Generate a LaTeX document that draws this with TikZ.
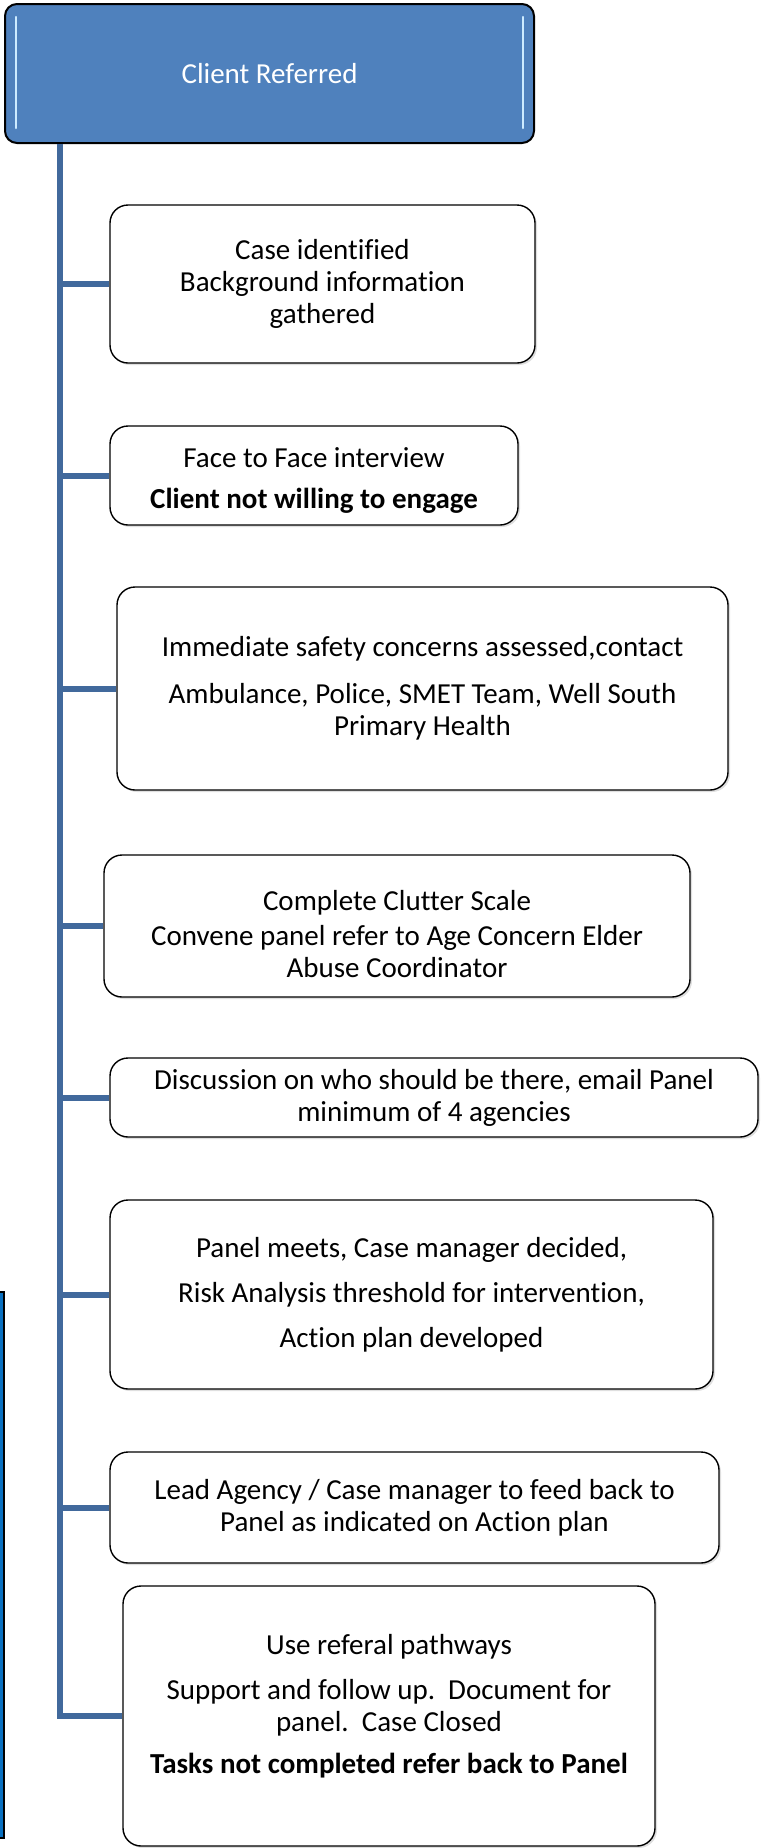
\documentclass[tikz,border=0pt]{standalone}
\usepackage{fontspec}
\setmainfont{Carlito}[Ligatures=NoCommon]
\usetikzlibrary{shadows}
\definecolor{topblue}{RGB}{79,129,189}
\definecolor{connblue}{RGB}{65,105,156}
\definecolor{barblue}{RGB}{10,112,192}
\definecolor{glint}{RGB}{205,235,255}
\begin{document}
\begin{tikzpicture}[x=1pt,y=-1pt,
  stepbox/.style={draw=black, line width=1.4pt, rounded corners=18pt, fill=white,
    align=center, font=\fontsize{29}{32}\selectfont, inner sep=0pt,
    drop shadow={shadow xshift=2pt, shadow yshift=-2pt, opacity=0.25}},
  conn/.style={draw=connblue, line width=6pt},
  topbox/.style={draw=black, line width=2pt, rounded corners=12pt, fill=topblue,
    text=white, font=\fontsize{29}{32}\selectfont, inner sep=0pt},
  glintline/.style={draw=glint, line width=2.5pt, line cap=round}]
\useasboundingbox (0,0) rectangle (763,1848);
\clip (0,0) rectangle (763,1848);
% left bar
\node[draw=black, line width=1.5pt, fill=barblue, minimum width=30pt, minimum height=546pt, inner sep=0pt] (bar) at (-11,1565) {};
% spine coordinate
\coordinate (spine) at (60,0);
% top box
\node[topbox, minimum width=529pt, minimum height=139pt] (top) at (269.5,73.5) {Client Referred};
\draw[glintline] ([xshift=12pt,yshift=-14pt]top.north west) -- ([xshift=12pt,yshift=16pt]top.south west);
\draw[glintline] ([xshift=-12pt,yshift=-14pt]top.north east) -- ([xshift=-12pt,yshift=16pt]top.south east);
% step boxes
\node[stepbox, minimum width=425pt, minimum height=158pt] (b2) at (322.5,284) {Case identified\\Background information\\gathered};
\node[stepbox, minimum width=408pt, minimum height=99pt] (b3) at (314,475.5) {\mbox{}\\[-2pt]Face to Face interview\\[9pt]\textbf{Client not willing to engage}};
\node[stepbox, minimum width=611pt, minimum height=203pt] (b4) at (422.5,688.5) {Immediate safety concerns assessed,contact\\[15pt]Ambulance, Police, SMET Team, Well South\\Primary Health};
\node[stepbox, minimum width=586pt, minimum height=142pt] (b5) at (397,926) {\mbox{}\\[5pt]Complete Clutter Scale\\[3pt]Convene panel refer to Age Concern Elder\\Abuse Coordinator};
\node[stepbox, minimum width=648pt, minimum height=79pt] (b6) at (434,1097.5) {Discussion on who should be there, email Panel\\minimum of 4 agencies};
\node[stepbox, minimum width=603pt, minimum height=189pt] (b7) at (411.5,1294.5) {Panel meets, Case manager decided,\\[13pt]Risk Analysis threshold for intervention,\\[13pt]Action plan developed};
\node[stepbox, minimum width=609pt, minimum height=111pt] (b8) at (414.5,1507.5) {Lead Agency / Case manager to feed back to\\Panel as indicated on Action plan};
\node[stepbox, minimum width=532pt, minimum height=260pt] (b9) at (389,1716) {Use referal pathways\\[13pt]Support and follow up.\ \ Document for\\panel.\ \ Case Closed\\[10pt]\textbf{Tasks not completed refer back to Panel}\\[-8pt]\mbox{}};
% connectors
\draw[conn] (top.south -| spine) |- (b9.west);
\foreach \b in {b2,b3,b4,b5,b6,b7,b8}{
  \draw[conn] (spine |- \b.west) -- (\b.west);
}
\end{tikzpicture}
\end{document}
